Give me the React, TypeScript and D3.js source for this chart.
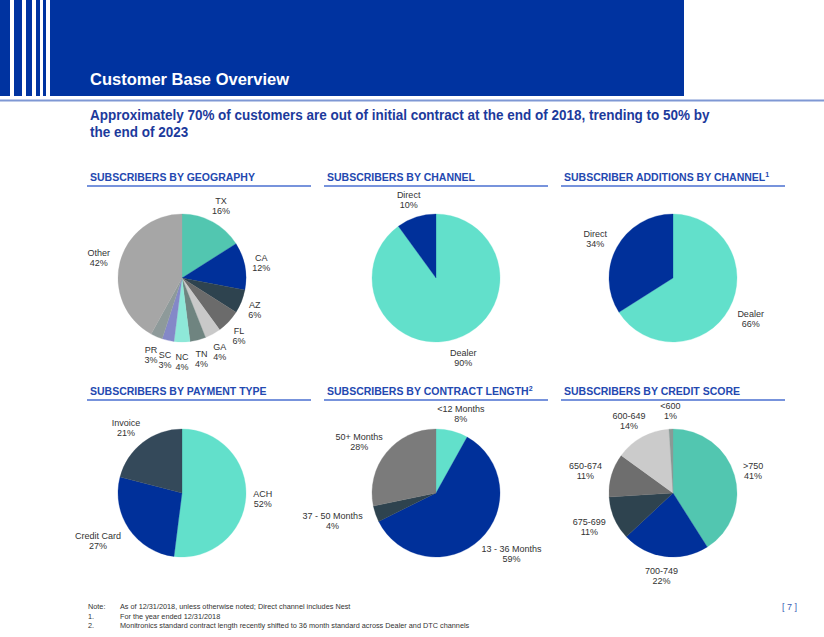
import React from "react";
import * as d3 from "d3";

// ---------- data ----------
const geoLabels = ["TX", "CA", "AZ", "FL", "GA", "TN", "NC", "SC", "PR", "Other"];
const geoValues = [16, 12, 6, 6, 4, 4, 4, 3, 3, 42];
const geoColors = ["#52c6b0", "#00309a", "#2e434f", "#6b6b6b", "#c9c9c9", "#6f8480", "#8ee8d8", "#8488c8", "#8e9a9a", "#a6a6a6"];

const channelLabels = ["Dealer", "Direct"];
const channelValues = [90, 10];
const channelColors = ["#62e0cb", "#00309a"];

const additionsLabels = ["Dealer", "Direct"];
const additionsValues = [66, 34];
const additionsColors = ["#62e0cb", "#00309a"];

const paymentLabels = ["ACH", "Credit Card", "Invoice"];
const paymentValues = [52, 27, 21];
const paymentColors = ["#62e0cb", "#00309a", "#34495a"];

const contractLabels = ["<12 Months", "13 - 36 Months", "37 - 50 Months", "50+ Months"];
const contractValues = [8, 59, 4, 28];
const contractColors = ["#62e0cb", "#00309a", "#2e434f", "#7b7b7b"];

const creditLabels = [">750", "700-749", "675-699", "650-674", "600-649", "<600"];
const creditValues = [41, 22, 11, 11, 14, 1];
const creditColors = ["#52c6b0", "#00309a", "#2e434f", "#6e6e6e", "#cbcbcb", "#8a9a96"];

const panelTitles = [
  "SUBSCRIBERS BY GEOGRAPHY",
  "SUBSCRIBERS BY CHANNEL",
  "SUBSCRIBER ADDITIONS BY CHANNEL",
  "SUBSCRIBERS BY PAYMENT TYPE",
  "SUBSCRIBERS BY CONTRACT LENGTH",
  "SUBSCRIBERS BY CREDIT SCORE",
];
const panelSup = ["", "", "1", "", "2", ""];

const noteLines = [
  ["Note:", "As of 12/31/2018, unless otherwise noted; Direct channel includes Nest"],
  ["1.", "For the year ended 12/31/2018"],
  ["2.", "Monitronics standard contract length recently shifted to 36 month standard across Dealer and DTC channels"],
];

// ---------- layout ----------
const W = 824;
const H = 637;
const colX = [90, 327, 564];
const lineX = [[87, 311], [324, 548], [561, 785]];
const rowTitleY = [181, 395];
const rowLineY = [186, 400];
const pieCX = [182, 436, 673];
const pieCY = [278, 493];
const R = 64;

const FONT = "'Liberation Sans', Arial, sans-serif";

type PieProps = { cx: number; cy: number; labels: string[]; values: number[]; colors: string[] };

function Pie({ cx, cy, labels, values, colors }: PieProps) {
  const pie = d3.pie<number>().sort(null).value((d) => d);
  const arcs = pie(values);
  const arc = d3.arc<d3.PieArcDatum<number>>().innerRadius(0).outerRadius(R);
  const pad = 9;
  return (
    <g transform={`translate(${cx},${cy})`}>
      {arcs.map((a, i) => (
        <path key={i} d={arc(a) || ""} fill={colors[i]} stroke={colors[i]} strokeWidth={0.3} />
      ))}
      {arcs.map((a, i) => {
        const mid = (a.startAngle + a.endAngle) / 2;
        const s = Math.sin(mid);
        const c = Math.cos(mid);
        const pct = `${values[i]}%`;
        const w = Math.max(labels[i].length, pct.length) * 5.2;
        const h = 20;
        const x = (R + pad) * s + (w / 2) * s;
        const y = -(R + pad) * c - (h / 2) * c;
        return (
          <text key={"t" + i} x={x} y={y} textAnchor="middle" fontFamily={FONT} fontSize={9} fill="#333">
            <tspan x={x} y={y - 1}>{labels[i]}</tspan>
            <tspan x={x} y={y + 9}>{pct}</tspan>
          </text>
        );
      })}
    </g>
  );
}

export default function App() {
  const stripes = [
    [0, 10],
    [14, 22],
    [26, 32],
    [36, 40],
    [43, 46],
    [50, 684],
  ];
  const pies = [
    { labels: geoLabels, values: geoValues, colors: geoColors },
    { labels: channelLabels, values: channelValues, colors: channelColors },
    { labels: additionsLabels, values: additionsValues, colors: additionsColors },
    { labels: paymentLabels, values: paymentValues, colors: paymentColors },
    { labels: contractLabels, values: contractValues, colors: contractColors },
    { labels: creditLabels, values: creditValues, colors: creditColors },
  ];
  return (
    <svg width={W} height={H} style={{ position: "absolute", left: 0, top: 0, background: "#fff" }}>
      <rect x={0} y={0} width={W} height={H} fill="#fff" />
      {stripes.map(([a, b], i) => (
        <rect key={i} x={a} y={0} width={b - a} height={96} fill="#0033a0" />
      ))}
      <rect x={0} y={99.5} width={W} height={2} fill="#7f98d4" />
      <text x={90} y={85} fontFamily={FONT} fontWeight="bold" fontSize={16.5} fill="#fff">
        Customer Base Overview
      </text>
      <g transform="translate(90,0) scale(0.9,1)">
        <text fontFamily={FONT} fontWeight="bold" fontSize={15} fill="#1c3a9c">
          <tspan x={0} y={120}>
            Approximately 70% of customers are out of initial contract at the end of 2018, trending to 50% by
          </tspan>
          <tspan x={0} y={137}>the end of 2023</tspan>
        </text>
      </g>

      {panelTitles.map((t, i) => {
        const col = i % 3;
        const row = Math.floor(i / 3);
        return (
          <g key={i}>
            <text x={colX[col]} y={rowTitleY[row]} fontFamily={FONT} fontWeight="bold" fontSize={10.5} fill="#2348b0">
              {t}
              {panelSup[i] && (
                <tspan fontSize={7} dy={-4}>
                  {panelSup[i]}
                </tspan>
              )}
            </text>
            <line x1={lineX[col][0]} x2={lineX[col][1]} y1={rowLineY[row]} y2={rowLineY[row]} stroke="#4a6fd0" strokeWidth={1.5} />
          </g>
        );
      })}

      {pies.map((p, i) => (
        <Pie key={i} cx={pieCX[i % 3]} cy={pieCY[Math.floor(i / 3)]} labels={p.labels} values={p.values} colors={p.colors} />
      ))}

      {noteLines.map(([a, b], i) => (
        <g key={i}>
          <text x={88} y={609 + i * 9.5} fontFamily={FONT} fontSize={7.3} fill="#333">
            {a}
          </text>
          <text x={120} y={609 + i * 9.5} fontFamily={FONT} fontSize={7.3} fill="#333">
            {b}
          </text>
        </g>
      ))}
      <text x={782} y={610} fontFamily={FONT} fontSize={9} fill="#3a5cb5">
        [ 7 ]
      </text>
    </svg>
  );
}
